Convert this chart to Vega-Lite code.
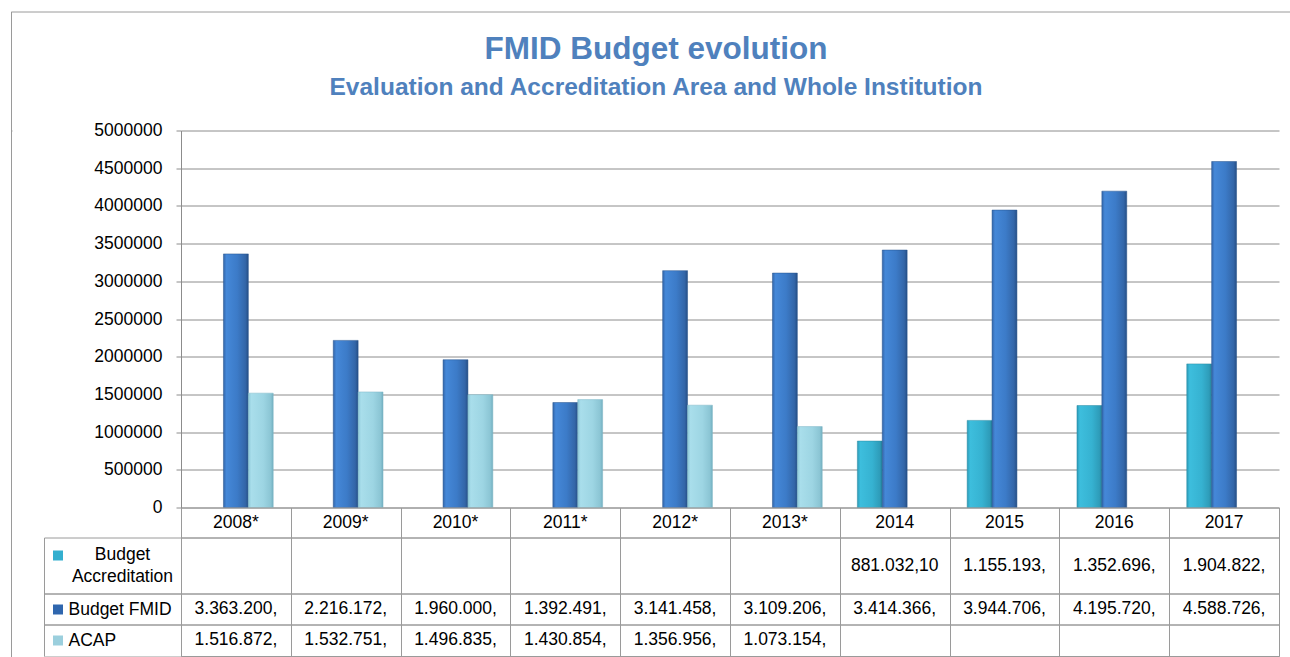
{
  "$schema": "https://vega.github.io/schema/vega-lite/v6.json",
  "padding": {"left": 10, "top": 10.5, "right": 0, "bottom": 0},
  "background": "white",
  "config": {
    "font": "Liberation Sans",
    "view": {"stroke": "#9a9a9a", "strokeWidth": 1},
    "axis": {"labelFont": "Liberation Sans", "labelFontSize": 17.5, "labelColor": "#000000"},
    "text": {"font": "Liberation Sans", "fontSize": 17.5, "color": "#000000"}
  },
  "datasets": {
    "budget": [
      {"year": "2008*", "series": "Budget FMID", "value": 3363200, "label": "3.363.200,"},
      {"year": "2009*", "series": "Budget FMID", "value": 2216172, "label": "2.216.172,"},
      {"year": "2010*", "series": "Budget FMID", "value": 1960000, "label": "1.960.000,"},
      {"year": "2011*", "series": "Budget FMID", "value": 1392491, "label": "1.392.491,"},
      {"year": "2012*", "series": "Budget FMID", "value": 3141458, "label": "3.141.458,"},
      {"year": "2013*", "series": "Budget FMID", "value": 3109206, "label": "3.109.206,"},
      {"year": "2014", "series": "Budget FMID", "value": 3414366, "label": "3.414.366,"},
      {"year": "2015", "series": "Budget FMID", "value": 3944706, "label": "3.944.706,"},
      {"year": "2016", "series": "Budget FMID", "value": 4195720, "label": "4.195.720,"},
      {"year": "2017", "series": "Budget FMID", "value": 4588726, "label": "4.588.726,"},
      {"year": "2008*", "series": "ACAP", "value": 1516872, "label": "1.516.872,"},
      {"year": "2009*", "series": "ACAP", "value": 1532751, "label": "1.532.751,"},
      {"year": "2010*", "series": "ACAP", "value": 1496835, "label": "1.496.835,"},
      {"year": "2011*", "series": "ACAP", "value": 1430854, "label": "1.430.854,"},
      {"year": "2012*", "series": "ACAP", "value": 1356956, "label": "1.356.956,"},
      {"year": "2013*", "series": "ACAP", "value": 1073154, "label": "1.073.154,"},
      {"year": "2014", "series": "Budget Accreditation", "value": 881032.1, "label": "881.032,10"},
      {"year": "2015", "series": "Budget Accreditation", "value": 1155193, "label": "1.155.193,"},
      {"year": "2016", "series": "Budget Accreditation", "value": 1352696, "label": "1.352.696,"},
      {"year": "2017", "series": "Budget Accreditation", "value": 1904822, "label": "1.904.822,"}
    ]
  },
  "spacing": 0,
  "bounds": "flush",
  "resolve": {"scale": {"color": "independent"}, "legend": {"color": "independent"}},
  "vconcat": [
    {
      "width": 1280,
      "height": 119,
      "view": {"stroke": "#9a9a9a", "strokeDash": [1280, 1399, 119]},
      "title": {
        "text": "FMID Budget evolution",
        "subtitle": "Evaluation and Accreditation Area and Whole Institution",
        "orient": "top",
        "frame": "group",
        "anchor": "middle",
        "offset": -88,
        "dx": 5,
        "font": "Liberation Sans",
        "fontSize": 31.5,
        "fontWeight": "bold",
        "color": "#4F81BD",
        "subtitleFont": "Liberation Sans",
        "subtitleFontSize": 24.5,
        "subtitleFontWeight": "bold",
        "subtitleColor": "#4F81BD",
        "subtitlePadding": 11
      },
      "data": {"values": []},
      "mark": {"type": "point"}
    },
    {
      "spacing": 169,
      "bounds": "flush",
      "resolve": {"scale": {"color": "independent"}, "legend": {"color": "independent"}},
      "hconcat": [
        {
          "width": 1,
          "height": 540,
          "view": {"stroke": "#9a9a9a", "strokeDash": [1, 541, 540]},
          "data": {"values": []},
          "mark": {"type": "point"}
        },
        {
          "spacing": 0,
          "bounds": "flush",
          "resolve": {"scale": {"color": "independent"}, "legend": {"color": "independent"}},
          "vconcat": [
            {
              "width": 1098,
              "height": 377,
              "view": {"stroke": null},
              "data": {"name": "budget"},
              "encoding": {
                "x": {"field": "year", "type": "nominal", "sort": null,
                      "scale": {"domain": ["2008*", "2009*", "2010*", "2011*", "2012*", "2013*", "2014", "2015", "2016", "2017"], "paddingInner": 0.32, "paddingOuter": 0.16},
                      "axis": null},
                "xOffset": {"field": "series", "type": "nominal",
                            "scale": {"domain": ["Budget Accreditation", "Budget FMID", "ACAP"], "paddingInner": 0, "paddingOuter": 0}},
                "y": {"field": "value", "type": "quantitative",
                      "scale": {"domain": [0, 5000000], "nice": false},
                      "axis": {"title": null, "values": [0, 500000, 1000000, 1500000, 2000000, 2500000, 3000000, 3500000, 4000000, 4500000, 5000000],
                               "format": "d", "grid": true, "gridColor": "#8c8c8c", "gridWidth": 1,
                               "domain": true, "domainColor": "#8c8c8c", "ticks": true, "tickColor": "#8c8c8c", "tickSize": 5,
                               "labelPadding": 14}}
              },
              "layer": [
                {
                  "transform": [{"filter": "datum.series === 'Budget Accreditation'"}],
                  "mark": {"type": "bar", "stroke": "#2a8aa3", "strokeWidth": 0.5,
                           "color": {"gradient": "linear", "x1": 0, "y1": 0, "x2": 1, "y2": 0,
                                     "stops": [{"offset": 0, "color": "#2B9AB7"}, {"offset": 0.12, "color": "#3DBEDD"}, {"offset": 0.6, "color": "#36B2D1"}, {"offset": 0.9, "color": "#2E9CB9"}, {"offset": 1, "color": "#237F98"}]}}
                },
                {
                  "transform": [{"filter": "datum.series === 'Budget FMID'"}],
                  "mark": {"type": "bar", "stroke": "#25528c", "strokeWidth": 0.5,
                           "color": {"gradient": "linear", "x1": 0, "y1": 0, "x2": 1, "y2": 0,
                                     "stops": [{"offset": 0, "color": "#3366AA"}, {"offset": 0.12, "color": "#4588D8"}, {"offset": 0.55, "color": "#3C7BC8"}, {"offset": 0.88, "color": "#3366A8"}, {"offset": 1, "color": "#264F86"}]}}
                },
                {
                  "transform": [{"filter": "datum.series === 'ACAP'"}],
                  "mark": {"type": "bar", "stroke": "#7fb6c6", "strokeWidth": 0.5,
                           "color": {"gradient": "linear", "x1": 0, "y1": 0, "x2": 1, "y2": 0,
                                     "stops": [{"offset": 0, "color": "#8CC8D8"}, {"offset": 0.12, "color": "#A9DEEB"}, {"offset": 0.6, "color": "#9DD5E3"}, {"offset": 0.9, "color": "#8BC5D4"}, {"offset": 1, "color": "#72AFC0"}]}}
                }
              ]
            },
            {
              "width": 1098,
              "height": 30,
              "data": {"name": "budget"},
              "transform": [{"filter": "datum.series === 'Budget FMID'"}],
              "mark": {"type": "text", "baseline": "middle"},
              "encoding": {
                "x": {"field": "year", "type": "nominal", "sort": null,
                      "scale": {"type": "band", "domain": ["2008*", "2009*", "2010*", "2011*", "2012*", "2013*", "2014", "2015", "2016", "2017"], "paddingInner": 0, "paddingOuter": 0},
                      "axis": {"title": null, "labels": false, "ticks": false, "domain": false, "grid": true, "tickBand": "extent", "gridColor": "#9a9a9a"}},
                "text": {"field": "year"}
              }
            },
            {
              "width": 1098,
              "height": 56,
              "data": {"name": "budget"},
              "transform": [{"filter": "datum.series === 'Budget Accreditation'"}],
              "encoding": {
                "x": {"field": "year", "type": "nominal", "sort": null,
                      "scale": {"type": "band", "domain": ["2008*", "2009*", "2010*", "2011*", "2012*", "2013*", "2014", "2015", "2016", "2017"], "paddingInner": 0, "paddingOuter": 0},
                      "axis": {"title": null, "labels": false, "ticks": false, "domain": false, "grid": true, "tickBand": "extent", "gridColor": "#9a9a9a"}}
              },
              "layer": [
                {
                  "mark": {"type": "text", "baseline": "middle"},
                  "encoding": {
                    "y": {"field": "series", "type": "nominal", "scale": {"type": "band", "paddingInner": 0, "paddingOuter": 0},
                          "axis": {"orient": "left", "title": null, "grid": false, "domain": true, "domainColor": "#9a9a9a",
                                   "ticks": true, "tickBand": "extent", "tickSize": 137, "tickColor": "#9a9a9a",
                                   "labelAlign": "center", "labelBaseline": "middle", "labelPadding": -78, "labelLineHeight": 22,
                                   "labelOffset": -11.5,
                                   "labelExpr": "isValid(datum.value) ? ['Budget', 'Accreditation'] : ''"}},
                    "text": {"field": "label"}
                  }
                },
                {
                  "mark": {"type": "point", "shape": "square", "filled": true, "opacity": 0},
                  "encoding": {
                    "y": {"field": "series", "type": "nominal", "scale": {"type": "band", "paddingInner": 0, "paddingOuter": 0},
                          "axis": {"orient": "left", "offset": 137, "title": null, "grid": false, "labels": false, "ticks": false, "domain": true, "domainColor": "#9a9a9a"}},
                    "color": {"field": "series", "type": "nominal", "scale": {"domain": ["Budget Accreditation"], "range": ["#33AFCF"]},
                              "legend": {"orient": "none", "legendX": -128, "legendY": 13, "title": null, "symbolType": "square", "symbolSize": 100,
                                         "symbolOpacity": 1, "symbolStrokeWidth": 0, "labelExpr": "''", "padding": 0}}
                  }
                }
              ],
              "resolve": {"axis": {"y": "independent"}}
            },
            {
              "width": 1098,
              "height": 31,
              "data": {"name": "budget"},
              "transform": [{"filter": "datum.series === 'Budget FMID'"}],
              "encoding": {
                "x": {"field": "year", "type": "nominal", "sort": null,
                      "scale": {"type": "band", "domain": ["2008*", "2009*", "2010*", "2011*", "2012*", "2013*", "2014", "2015", "2016", "2017"], "paddingInner": 0, "paddingOuter": 0},
                      "axis": {"title": null, "labels": false, "ticks": false, "domain": false, "grid": true, "tickBand": "extent", "gridColor": "#9a9a9a"}}
              },
              "layer": [
                {
                  "mark": {"type": "text", "baseline": "middle"},
                  "encoding": {
                    "y": {"field": "series", "type": "nominal", "scale": {"type": "band", "paddingInner": 0, "paddingOuter": 0},
                          "axis": {"orient": "left", "title": null, "grid": false, "domain": true, "domainColor": "#9a9a9a",
                                   "ticks": true, "tickBand": "extent", "tickSize": 137, "tickColor": "#9a9a9a",
                                   "labelAlign": "left", "labelBaseline": "middle", "labelPadding": -24}},
                    "text": {"field": "label"}
                  }
                },
                {
                  "mark": {"type": "point", "shape": "square", "filled": true, "opacity": 0},
                  "encoding": {
                    "y": {"field": "series", "type": "nominal", "scale": {"type": "band", "paddingInner": 0, "paddingOuter": 0},
                          "axis": {"orient": "left", "offset": 137, "title": null, "grid": false, "labels": false, "ticks": false, "domain": true, "domainColor": "#9a9a9a"}},
                    "color": {"field": "series", "type": "nominal", "scale": {"domain": ["Budget FMID"], "range": ["#2F66AE"]},
                              "legend": {"orient": "none", "legendX": -128, "legendY": 11, "title": null, "symbolType": "square", "symbolSize": 100,
                                         "symbolOpacity": 1, "symbolStrokeWidth": 0, "labelExpr": "''", "padding": 0}}
                  }
                }
              ],
              "resolve": {"axis": {"y": "independent"}}
            },
            {
              "width": 1098,
              "height": 31.5,
              "data": {"name": "budget"},
              "transform": [{"filter": "datum.series === 'ACAP'"}],
              "encoding": {
                "x": {"field": "year", "type": "nominal", "sort": null,
                      "scale": {"type": "band", "domain": ["2008*", "2009*", "2010*", "2011*", "2012*", "2013*", "2014", "2015", "2016", "2017"], "paddingInner": 0, "paddingOuter": 0},
                      "axis": {"title": null, "labels": false, "ticks": false, "domain": false, "grid": true, "tickBand": "extent", "gridColor": "#9a9a9a"}}
              },
              "layer": [
                {
                  "mark": {"type": "text", "baseline": "middle"},
                  "encoding": {
                    "y": {"field": "series", "type": "nominal", "scale": {"type": "band", "paddingInner": 0, "paddingOuter": 0},
                          "axis": {"orient": "left", "title": null, "grid": false, "domain": true, "domainColor": "#9a9a9a",
                                   "ticks": true, "tickBand": "extent", "tickSize": 137, "tickColor": "#9a9a9a",
                                   "labelAlign": "left", "labelBaseline": "middle", "labelPadding": -24}},
                    "text": {"field": "label"}
                  }
                },
                {
                  "mark": {"type": "point", "shape": "square", "filled": true, "opacity": 0},
                  "encoding": {
                    "y": {"field": "series", "type": "nominal", "scale": {"type": "band", "paddingInner": 0, "paddingOuter": 0},
                          "axis": {"orient": "left", "offset": 137, "title": null, "grid": false, "labels": false, "ticks": false, "domain": true, "domainColor": "#9a9a9a"}},
                    "color": {"field": "series", "type": "nominal", "scale": {"domain": ["ACAP"], "range": ["#9BCFDD"]},
                              "legend": {"orient": "none", "legendX": -128, "legendY": 11, "title": null, "symbolType": "square", "symbolSize": 100,
                                         "symbolOpacity": 1, "symbolStrokeWidth": 0, "labelExpr": "''", "padding": 0}}
                  }
                }
              ],
              "resolve": {"axis": {"y": "independent"}}
            }
          ]
        }
      ]
    }
  ]
}
